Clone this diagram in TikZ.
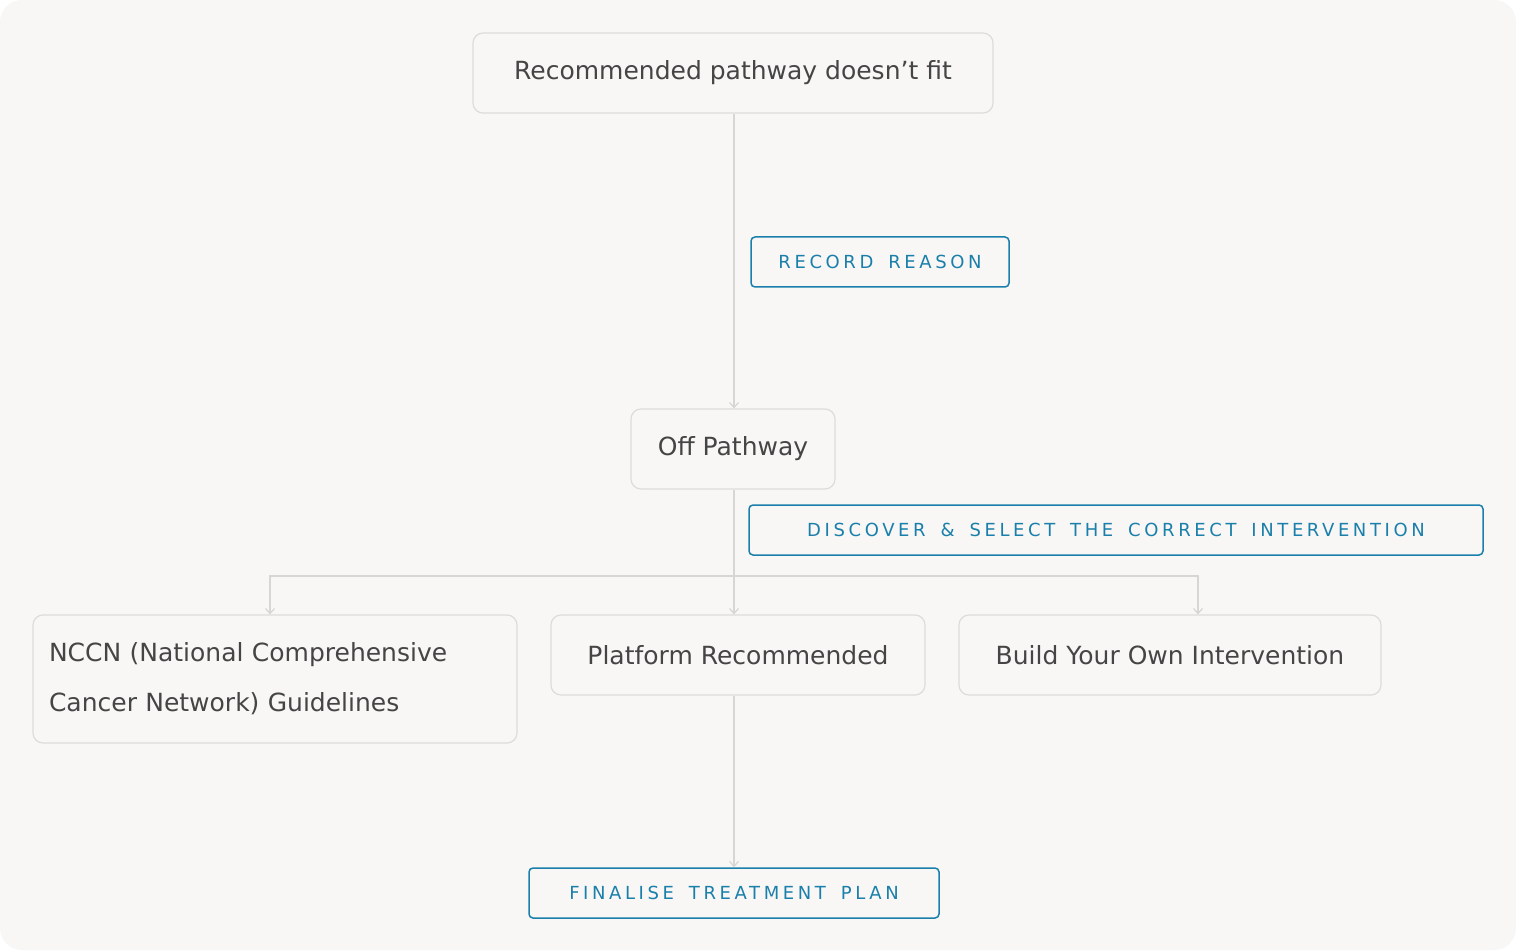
\documentclass[tikz,border=0pt]{standalone}
\usepackage{fontspec}
\setmainfont{DejaVu Sans}
\newfontfamily\tagfont[LetterSpace=20,WordSpace=1.6]{DejaVu Sans}
\usetikzlibrary{arrows.meta}
\definecolor{bg}{HTML}{F8F7F5}
\definecolor{txt}{HTML}{454545}
\definecolor{bx}{HTML}{DEDCDA}
\definecolor{blu}{HTML}{1A7FAA}
\definecolor{ln}{HTML}{D6D6D6}
\begin{document}
\begin{tikzpicture}[x=1pt,y=-1pt,
  box/.style={draw=bx,line width=1.2pt,rounded corners=10pt,fill=bg,text=txt,font=\fontsize{25}{50}\selectfont,inner sep=0pt,anchor=center},
  tag/.style={draw=blu,line width=1.5pt,rounded corners=4pt,fill=bg,text=blu,font=\tagfont\fontsize{18}{22}\selectfont,inner sep=0pt,anchor=center},
  con/.style={draw=ln,line width=1.2pt,-{Straight Barb[length=5pt,width=9pt]}}]
\useasboundingbox (0,0) rectangle (1516,952);
\fill[white] (0,0) rectangle (1516,952);
\fill[bg,rounded corners=22pt] (0,0) rectangle (1516,950);
\node[box,minimum width=520pt,minimum height=80pt] (top) at (733,73) {Recommended pathway doesn’t fit};
\node[tag,minimum width=258pt,minimum height=50pt] (rr) at (880,262) {RECORD REASON};
\node[box,minimum width=204pt,minimum height=80pt] (off) at (733,449) {Off Pathway};
\node[tag,minimum width=734pt,minimum height=50pt] (ds) at (1116,530) {DISCOVER \& SELECT THE CORRECT INTERVENTION};
\node[box,minimum width=484pt,minimum height=128pt,text width=452pt,align=left] (nccn) at (275,679) {NCCN (National Comprehensive\\Cancer Network) Guidelines};
\node[box,minimum width=374pt,minimum height=80pt] (plat) at (738,655) {Platform Recommended};
\node[box,minimum width=422pt,minimum height=80pt] (build) at (1170,655) {Build Your Own Intervention};
\node[tag,minimum width=410pt,minimum height=50pt] (fin) at (734,893) {FINALISE TREATMENT PLAN};
\coordinate (j) at (734,576);
\draw[con] (top.south -| j) -- (off.north -| j);
\draw[con] (off.south -| j) -- (plat.north -| j);
\draw[con] (j) -- (270,576) -- (nccn.north -| 270,0);
\draw[con] (j) -- (1198,576) -- (build.north -| 1198,0);
\draw[con] (plat.south -| j) -- (fin.north -| j);
\end{tikzpicture}
\end{document}
